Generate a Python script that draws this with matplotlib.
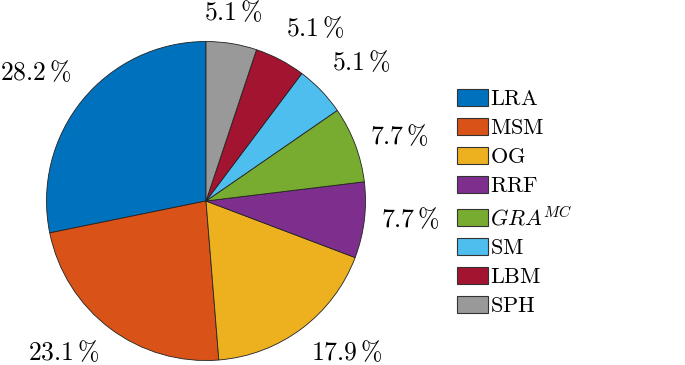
import matplotlib
matplotlib.use("Agg")
import matplotlib.pyplot as plt

plt.rcParams['mathtext.fontset'] = 'cm'
plt.rcParams['font.family'] = 'serif'
plt.rcParams['font.serif'] = ['cmr10', 'DejaVu Serif']

# share of methods (counts out of 39)
names = ['LRA', 'MSM', 'OG', 'RRF', 'GRA^{MC}', 'SM', 'LBM', 'SPH']
counts = [11, 9, 7, 3, 3, 2, 2, 2]
colors = ['#0072BD', '#D95319', '#EDB120', '#7E2F8E', '#77AC30',
          '#4DBEEE', '#A2142F', '#999999']

# small hand placement tweaks for the percent labels (axes data units)
label_nudge = [(-0.14, 0.05), (-0.17, 0.01), (0.16, 0.01), (0.09, 0.03),
               (0.09, -0.02), (0.11, 0.04), (0.13, 0.02), (-0.02, 0.0)]

legend_labels = [r'$\mathrm{%s}$' % n if '^' not in n else r'$%s$' % n
                 for n in names]

fig = plt.figure(figsize=(6.85, 3.65), dpi=100)
# square axes in pixels so the pie fills it exactly
R = 319.0
ax = fig.add_axes([46.5 / 685, (365 - 360.5) / 365, R / 685, R / 365])

wedges, texts, autotexts = ax.pie(
    counts, colors=colors, startangle=90, counterclock=True,
    autopct=lambda p: r'$%.1f\,\%%$' % p, pctdistance=1.2,
    wedgeprops=dict(edgecolor='#222222', linewidth=0.6),
    textprops=dict(fontsize=18.5))
for t, (dx, dy) in zip(autotexts, label_nudge):
    x, y = t.get_position()
    t.set_position((x + dx, y + dy))
    t.set_clip_on(False)

ax.set_xlim(-1, 1)
ax.set_ylim(-1, 1)
ax.set_aspect('equal')
ax.axis('off')

leg = fig.legend(wedges, legend_labels, loc='upper left',
                 bbox_to_anchor=(448 / 685, 1 - 80 / 365),
                 frameon=False, fontsize=16, handlelength=1.4,
                 handleheight=0.8, handletextpad=0.1, labelspacing=0.4,
                 borderaxespad=0)
for h in leg.legend_handles:
    h.set_edgecolor('#333333')
    h.set_linewidth(0.8)

fig.savefig('out.png', dpi=100)
